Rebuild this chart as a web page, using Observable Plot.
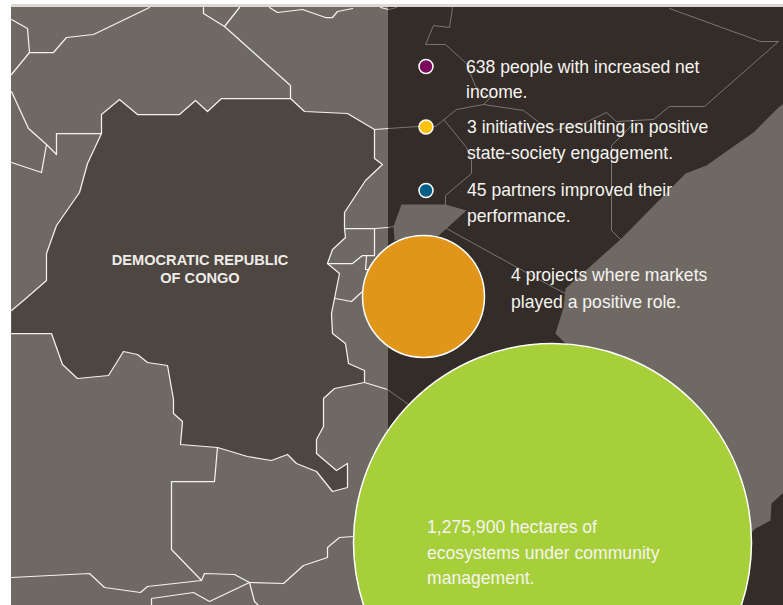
<!DOCTYPE html>
<html>
<head>
<meta charset="utf-8">
<script src="https://cdn.jsdelivr.net/npm/d3@7"></script>
<script src="https://cdn.jsdelivr.net/npm/@observablehq/plot@0.6"></script>
<style>html,body{margin:0;padding:0;background:#fff}svg{display:block}</style>
</head>
<body>
<div id="chart"></div>
<script>
const drcOutline = [[11,310],[23,300],[46,280],[46,253],[56,225],[79,192],[87,163],[101,133],[101,114],[119,99],[137,114],[179,114],[195,100],[207,111],[221,98],[290,98],[304,111],[347,113],[374,129],[374,158],[382,164],[365,180],[344,212],[344,228],[345,237],[332,249],[327,263],[339,273],[334,298],[331,313],[332,333],[345,343],[348,363],[364,370],[364,382],[334,388],[323,398],[323,426],[316,439],[316,453],[336,470],[347,463],[347,487],[332,491],[316,471],[296,463],[287,454],[271,460],[247,456],[217,447],[180,444],[182,421],[173,413],[173,399],[167,365],[147,362],[137,354],[123,351],[108,375],[77,378],[62,364],[51,333],[11,333]];
const coastLand = [[783,103],[778,107],[753,132],[730,148],[706,165],[685,173],[620,239],[565,288],[563,307],[555,333],[565,343],[650,400],[750,533],[755,528],[770,520],[771,503],[783,492]];
const lakeLand = [[401,204],[445,204],[466,210],[436,237],[394,240],[393,226]];
const whiteBorders = [
  [[149,7],[93,34],[66,37],[53,52],[29,52],[27,28],[11,19]],
  [[29,52],[11,74]],
  [[11,91],[28,128],[46,144],[56,154],[56,133],[101,133]],
  [[46,144],[41,172],[11,162]],
  [[203,7],[203,13],[224,26],[239,7]],
  [[224,26],[290,85],[290,98]],
  [[269,7],[277,12],[302,9],[325,17],[332,17],[337,11],[352,8]],
  [[380,7],[388,9]],
  [[374,129],[388,128]],
  [[345,228],[374,228],[388,227]],
  [[374,228],[374,255],[362,255],[352,263],[327,263]],
  [[366,256],[365,269],[372,269]],
  [[335,298],[351,301],[363,290]],
  [[217,447],[214,481],[171,481],[171,549],[201,580]],
  [[11,577],[89,573],[104,587],[140,592],[147,586],[201,580],[204,573],[234,574],[249,582],[283,583],[303,565],[327,557],[327,547],[339,537],[353,536]],
  [[249,582],[209,601],[193,592],[151,598],[151,605]],
  [[249,582],[254,601],[258,605]],
  [[364,382],[387,389]]
];
const greyBorders = [
  [[388,9],[396,7]],
  [[388,128],[418,126]],
  [[388,227],[393,226]],
  [[387,389],[408,404]],
  [[452,7],[449,27],[433,25],[425,44],[445,44],[466,63],[475,86],[490,97],[483,104],[456,109],[435,126],[418,126]],
  [[483,104],[523,110],[540,123],[553,130],[583,123],[606,112],[616,121],[653,119],[669,106],[704,106],[778,41],[760,41],[669,8]],
  [[444,120],[466,147],[471,160],[471,173],[445,195],[445,204]],
  [[633,123],[611,145],[611,230],[620,239]],
  [[446,228],[553,287],[565,293]]
];
const bubbleX = [552, 423, 425.5, 425.5, 425.5];
const bubbleY = [542, 296, 66, 126.5, 190];
const bubbleR = [199, 61, 7, 7, 7];
const bubbleFill = ["#a6cf39", "#e1961a", "#7b0a5f", "#fdc30f", "#045f86"];
const labelLines = ["638 people with increased net","income.","3 initiatives resulting in positive","state-society engagement.","45 partners improved their","performance.","4 projects where markets","played a positive role.","1,275,900 hectares of","ecosystems under community","management."];
const labelX = [465.5,465.5,466.5,466.5,466.5,466.5,510.5,510.5,426.5,426.5,426.5];
const labelY = [72,97,132,158,195,221,280,307,532,558,583];
const countryLines = ["DEMOCRATIC REPUBLIC","OF CONGO"];
const countryY = [264,282];

const W = 783, H = 605;
const flat = a => a.flatMap((pts,i) => pts.map(p => ({x:p[0], y:p[1], id:i})));
const pt = {x: d => d[0], y: d => d[1], clip: true};
const font = "'Liberation Sans', Arial, sans-serif";

const plot = Plot.plot({
  width: W, height: H, margin: 0,
  x: {domain:[0,W], range:[0,W], axis:null},
  y: {domain:[0,H], range:[0,H], axis:null},
  r: {type:"identity"},
  style: {background:"#fff", fontFamily: font},
  marks: [
    Plot.rect([0], {x1:11, x2:W, y1:4, y2:7, fill:"#dcd9d4"}),
    Plot.rect([0], {x1:11, x2:W, y1:7, y2:H, fill:"#6f6964"}),
    Plot.line(drcOutline, {...pt, fill:"#4e4641", stroke:"none"}),
    Plot.rect([0], {x1:388, x2:W, y1:7, y2:H, fill:"#332c28"}),
    Plot.line(coastLand, {...pt, fill:"#6f6964", stroke:"none"}),
    Plot.line(lakeLand, {...pt, fill:"#6f6964", stroke:"none"}),
    Plot.line(flat([[...drcOutline]]), {x:"x", y:"y", z:"id", stroke:"#f4f2ee", strokeWidth:1.25, clip:true}),
    Plot.line(flat(whiteBorders), {x:"x", y:"y", z:"id", stroke:"#f4f2ee", strokeWidth:1.25, clip:true}),
    Plot.line(flat(greyBorders), {x:"x", y:"y", z:"id", stroke:"#7b7570", strokeWidth:1, clip:true}),
    Plot.dot(d3.range(bubbleX.length), {x:i=>bubbleX[i], y:i=>bubbleY[i], r:i=>bubbleR[i], fill:i=>bubbleFill[i], stroke:"#fff", strokeWidth:1.5}),
    Plot.text(labelLines, {x:(d,i)=>labelX[i], y:(d,i)=>labelY[i], text:d=>d, textAnchor:"start", lineAnchor:"bottom", fill:"#f6f4f0", fontSize:19, fontFamily:font, className:"narrow-label"}),
    Plot.text(countryLines, {x:199.5, y:(d,i)=>countryY[i], text:d=>d, lineAnchor:"bottom", fill:"#eeece8", fontSize:14.6, fontWeight:"bold", fontFamily:font})
  ]
});
document.getElementById("chart").append(plot);
// the reference type is slightly condensed: keep it real text, compress its advance width
d3.select(plot).selectAll(".narrow-label text").each(function(){
  const w = this.getComputedTextLength();
  d3.select(this).attr("textLength", (w*0.925).toFixed(1)).attr("lengthAdjust","spacingAndGlyphs");
});
</script>
</body>
</html>
